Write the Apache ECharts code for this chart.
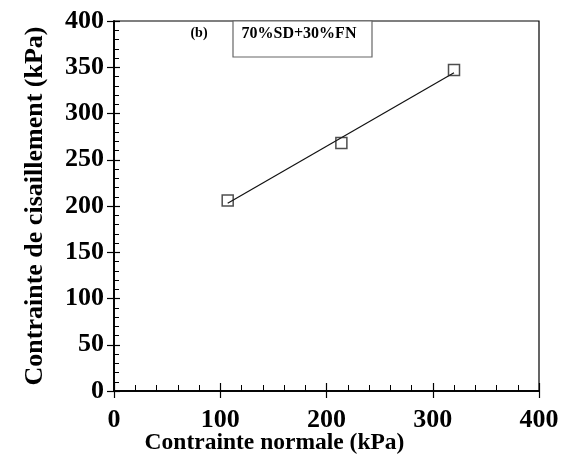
<!DOCTYPE html>
<html>
<head>
<meta charset="utf-8">
<script src="https://cdn.jsdelivr.net/npm/echarts@6/dist/echarts.min.js"></script>
<style>html,body{margin:0;padding:0;background:#fff}#c{width:571px;height:466px}</style>
</head>
<body>
<div id="c"></div>
<script>
var normalStress = [107, 214, 320];
var shearStress = [206, 268, 347];
var fitX = [107, 320];
var fitY = [203, 344];
var xTicks = [0, 100, 200, 300, 400];
var yTicks = [0, 50, 100, 150, 200, 250, 300, 350, 400];
var xTitle = 'Contrainte normale (kPa)';
var yTitle = 'Contrainte de cisaillement (kPa)';
var panelLabel = '(b)';
var legendLabel = '70%SD+30%FN';

var FONT = '"Liberation Serif", "Times New Roman", serif';
var chart = echarts.init(document.getElementById('c'), null, {renderer: 'canvas'});
var gridPos = {left: 114, right: 32, top: 21, bottom: 75};
function axisBase(min, max, interval) {
  return {type: 'value', min: min, max: max, interval: interval, splitLine: {show: false},
    axisLine: {show: true, lineStyle: {color: '#000', width: 1.5}}};
}
var option = {
  backgroundColor: '#fff',
  animation: false,
  grid: [
    Object.assign({show: true, borderColor: '#000', borderWidth: 1.2, backgroundColor: 'transparent'}, gridPos),
    Object.assign({show: false}, gridPos)
  ],
  xAxis: [
    Object.assign(axisBase(xTicks[0], xTicks[xTicks.length-1], xTicks[1]-xTicks[0]), {
      gridIndex: 0, position: 'bottom',
      axisTick: {show: true, inside: false, length: 7, lineStyle: {color: '#000', width: 1.2}},
      axisLabel: {fontFamily: FONT, fontWeight: 'bold', fontSize: 26, color: '#000', margin: 16},
      name: xTitle, nameLocation: 'middle', nameGap: 40, nameMoveOverlap: false,
      nameTextStyle: {fontFamily: FONT, fontWeight: 'bold', fontSize: 23.5, color: '#000', padding: [0, 104, 0, 0]}
    }),
    Object.assign(axisBase(xTicks[0], xTicks[xTicks.length-1], xTicks[1]-xTicks[0]), {
      gridIndex: 1, position: 'bottom',
      axisTick: {show: true, inside: true, length: 8, lineStyle: {color: '#000', width: 1.2}},
      minorTick: {show: true, splitNumber: 5, length: 6, lineStyle: {color: '#000', width: 1}},
      axisLabel: {show: false}
    })
  ],
  yAxis: [
    Object.assign(axisBase(yTicks[0], yTicks[yTicks.length-1], yTicks[1]-yTicks[0]), {
      gridIndex: 0, position: 'left',
      axisTick: {show: true, inside: false, length: 7, lineStyle: {color: '#000', width: 1.2}},
      axisLabel: {fontFamily: FONT, fontWeight: 'bold', fontSize: 26, color: '#000', margin: 10},
      name: yTitle, nameLocation: 'middle', nameGap: 66, nameMoveOverlap: false,
      nameTextStyle: {fontFamily: FONT, fontWeight: 'bold', fontSize: 26, color: '#000'}
    }),
    Object.assign(axisBase(yTicks[0], yTicks[yTicks.length-1], yTicks[1]-yTicks[0]), {
      gridIndex: 1, position: 'left',
      axisTick: {show: true, inside: true, length: 6, lineStyle: {color: '#000', width: 1.2}},
      minorTick: {show: true, splitNumber: 5, length: 5, lineStyle: {color: '#000', width: 1}},
      axisLabel: {show: false}
    })
  ],
  series: [
    {
      type: 'line', xAxisIndex: 0, yAxisIndex: 0,
      data: fitX.map(function (x, i) { return [x, fitY[i]]; }),
      symbol: 'none', lineStyle: {color: '#111', width: 1.2}, z: 2
    },
    {
      type: 'scatter', xAxisIndex: 0, yAxisIndex: 0,
      data: normalStress.map(function (x, i) { return [x, shearStress[i]]; }),
      symbol: 'rect', symbolSize: 11,
      itemStyle: {color: 'rgba(255,255,255,0)', borderColor: '#222', borderWidth: 1.5}, z: 3
    }
  ],
  graphic: [
    {type: 'rect', shape: {x: 233, y: 21, width: 139, height: 36},
      style: {fill: '#fff', stroke: '#666', lineWidth: 1.2}, z: 10},
    {type: 'text', x: 299, y: 34, style: {text: legendLabel, fontFamily: FONT, fontWeight: 'bold',
      fontSize: 16, fill: '#000', textAlign: 'center', textVerticalAlign: 'middle'}, z: 11},
    {type: 'text', x: 199, y: 33, style: {text: panelLabel, fontFamily: FONT, fontWeight: 'bold',
      fontSize: 14, fill: '#000', textAlign: 'center', textVerticalAlign: 'middle'}, z: 11}
  ]
};
chart.setOption(option);
</script>
</body>
</html>
